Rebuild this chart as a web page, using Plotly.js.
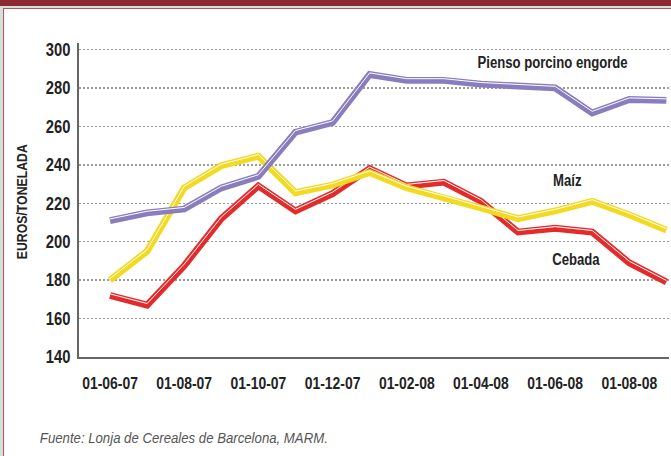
<!DOCTYPE html>
<html>
<head>
<meta charset="utf-8">
<script src="https://cdn.plot.ly/plotly-3.0.1.min.js"></script>
<style>
  html, body { margin: 0; padding: 0; }
  body { width: 671px; height: 456px; overflow: hidden; background: #d3e1da; position: relative; }
  #hdr { position: absolute; left: 0; top: 0; width: 671px; height: 6px; background: #8c2832; }
  #panel { position: absolute; left: 3px; top: 8px; width: 700px; height: 470px; background: #ffffff;
           border-left: 1.5px solid #b4545c; border-top: 1.5px solid #b4545c; }
  #chart { position: absolute; left: 0; top: 0; width: 671px; height: 456px; }
</style>
</head>
<body>
<div id="hdr"></div>
<div id="panel"></div>
<div id="chart"></div>
<script>
// ---- data ----
const months = ['01-06-07','01-07-07','01-08-07','01-09-07','01-10-07','01-11-07','01-12-07','01-01-08',
                '01-02-08','01-03-08','01-04-08','01-05-08','01-06-08','01-07-08','01-08-08','01-09-08'];
const tickLabels = ['01-06-07','01-08-07','01-10-07','01-12-07','01-02-08','01-04-08','01-06-08','01-08-08'];
const yTicks = [140,160,180,200,220,240,260,280,300];
const pienso = [211,215,217,228,234,257,262,287,284,284,282,281,280,267,274,273.5];
const maiz   = [180,195,228,239.5,244.5,225.5,229.5,236,228,223,217.5,212,216,221,214,206];
const cebada = [172,167,187.5,212,229,216,225,238,229,231,221,205,207,205,189,179];
const seriesNames = ['Pienso porcino engorde','Maíz','Cebada'];
const sourceNote = 'Fuente: Lonja de Cereales de Barcelona, MARM.';
const yTitle = 'EUROS/TONELADA';

// ---- styling ----
const H = 317;               // plot area height in px
const mainDom = [0, 1 - 3/H];
const hlDom = [1.6/H, 1 - 1.4/H];
const yRange = [140, 303.4];
const fontB = 'Liberation Sans, Arial, sans-serif';
const colors = {cebada:'#e42b2b', maiz:'#f3d920', pienso:'#8a7dbf'};
const labFont = {family: fontB, size: 16, color:'#222222', weight:'bold'};

function thick(y, color, axis, name) {
  return {x: months, y: y, type:'scatter', mode:'lines', name: name, yaxis: axis,
          line:{color: color, width: 6.8, shape:'linear'}, hoverinfo:'skip'};
}
function hl(y, axis) {
  return {x: months, y: y, type:'scatter', mode:'lines', yaxis: axis,
          line:{color:'#ffffff', width: 1}, hoverinfo:'skip'};
}

const traces = [
  thick(cebada, colors.cebada, 'y', seriesNames[2]), hl(cebada, 'y2'),
  thick(maiz, colors.maiz, 'y3', seriesNames[1]),    hl(maiz, 'y4'),
  thick(pienso, colors.pienso, 'y5', seriesNames[0]), hl(pienso, 'y6')
];

function hidden(dom) {
  return {domain: dom, range: yRange, visible: false, showgrid: false, zeroline: false, anchor: 'x', fixedrange: true};
}

const layout = {
  width: 671, height: 456,
  margin: {l: 78, r: 2, t: 40, b: 99},
  paper_bgcolor: 'rgba(0,0,0,0)', plot_bgcolor: 'rgba(0,0,0,0)',
  showlegend: false,
  xaxis: {
    type: 'category', range: [-0.836, 15.07], domain: [1/591, 1],
    tickmode: 'array', tickvals: tickLabels, ticktext: tickLabels,
    showgrid: false, zeroline: false, showline: true, linecolor: '#666666', linewidth: 2,
    ticks: '', ticklabelstandoff: 10,
    tickfont: {family: fontB, size: 17, color: '#222222', weight: 'bold'}
  },
  yaxis: {
    domain: mainDom, range: yRange, tickmode: 'array', tickvals: yTicks,
    showgrid: true, gridcolor: '#9c9c9c', gridwidth: 1.5, griddash: '2px,2px',
    zeroline: false, showline: true, linecolor: '#666666', linewidth: 2,
    ticks: '', ticklabelstandoff: 3,
    tickfont: {family: fontB, size: 18, color: '#222222', weight: 'bold'}
  },
  yaxis2: hidden(hlDom), yaxis3: hidden(mainDom), yaxis4: hidden(hlDom),
  yaxis5: hidden(mainDom), yaxis6: hidden(hlDom),
  annotations: [
    {text: seriesNames[0], xref:'x', yref:'y', x: 11.93, y: 293, xanchor:'center', yanchor:'middle',
     showarrow:false, font: labFont},
    {text: seriesNames[1], xref:'x', yref:'y', x: 12.33, y: 231.7, xanchor:'center', yanchor:'middle',
     showarrow:false, font: labFont},
    {text: seriesNames[2], xref:'x', yref:'y', x: 12.55, y: 190.5, xanchor:'center', yanchor:'middle',
     showarrow:false, font: labFont},
    {text: yTitle, xref:'paper', yref:'paper', x: (21.5-78)/591, y: (357-201.5)/H, textangle: -90,
     xanchor:'center', yanchor:'middle', showarrow:false,
     font:{family: fontB, size: 15, color:'#222222', weight:'bold'}},
    {text: sourceNote, xref:'paper', yref:'paper', x: (184-78)/591, y: (357-437)/H,
     xanchor:'center', yanchor:'middle', showarrow:false,
     font:{family: fontB, size: 15, color:'#555555', style:'italic'}}
  ]
};

// Narrow-font look: squeeze each rendered text horizontally around its anchor point
function condense(gd) {
  gd.querySelectorAll('svg text').forEach(function (t) {
    const s = t.textContent === sourceNote ? 0.88 : 0.82;
    const x = parseFloat(t.getAttribute('x')) || 0;
    const y = parseFloat(t.getAttribute('y')) || 0;
    const prev = t.getAttribute('transform') || '';
    t.setAttribute('transform', prev + ' translate(' + x + ',' + y + ') scale(' + s + ',1) translate(' + (-x) + ',' + (-y) + ')');
  });
}

Plotly.newPlot('chart', traces, layout, {displayModeBar: false, staticPlot: true})
  .then(function (gd) { condense(gd); });
</script>
</body>
</html>
